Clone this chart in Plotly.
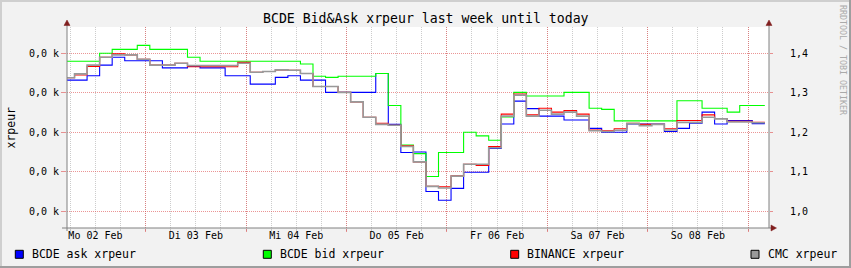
import plotly.graph_objects as go
import pandas as pd

FONT = "DejaVu Sans Mono"

# ---- data (3-hourly steps, starting 2026-02-02 04:00; last time closes the final step)
step_times = pd.date_range("2026-02-02 04:00", periods=57, freq="3h")

ask = [1.332, 1.332, 1.343, 1.370, 1.390, 1.381, 1.381, 1.381, 1.363, 1.363,
       1.367, 1.363, 1.363, 1.343, 1.343, 1.322, 1.322, 1.339, 1.343, 1.332,
       1.332, 1.301, 1.301, 1.301, 1.301, 1.349, 1.220, 1.149, 1.150, 1.050,
       1.028, 1.058, 1.099, 1.099, 1.159, 1.221, 1.279, 1.260, 1.241, 1.241,
       1.231, 1.231, 1.210, 1.200, 1.200, 1.221, 1.221, 1.221, 1.202, 1.210,
       1.223, 1.251, 1.221, 1.230, 1.230, 1.222]

bid = [1.380, 1.380, 1.380, 1.400, 1.410, 1.410, 1.420, 1.410, 1.410, 1.410,
       1.390, 1.380, 1.380, 1.380, 1.380, 1.380, 1.380, 1.380, 1.380, 1.373,
       1.342, 1.339, 1.342, 1.342, 1.342, 1.349, 1.268, 1.168, 1.146, 1.088,
       1.149, 1.149, 1.200, 1.191, 1.180, 1.239, 1.301, 1.292, 1.292, 1.292,
       1.301, 1.301, 1.261, 1.258, 1.229, 1.229, 1.229, 1.229, 1.229, 1.280,
       1.280, 1.261, 1.261, 1.251, 1.268, 1.268]

binance = [1.338, 1.345, 1.367, 1.390, 1.399, 1.396, 1.385, 1.370, 1.370, 1.375,
           1.366, 1.366, 1.366, 1.366, 1.377, 1.352, 1.354, 1.358, 1.357, 1.349,
           1.316, 1.316, 1.301, 1.277, 1.238, 1.223, 1.218, 1.166, 1.125, 1.063,
           1.062, 1.090, 1.119, 1.116, 1.164, 1.246, 1.297, 1.244, 1.261, 1.251,
           1.255, 1.246, 1.206, 1.204, 1.209, 1.223, 1.220, 1.220, 1.209, 1.230,
           1.230, 1.244, 1.235, 1.228, 1.228, 1.225]

cmc = [1.338, 1.348, 1.370, 1.390, 1.396, 1.396, 1.385, 1.370, 1.370, 1.375,
       1.369, 1.369, 1.369, 1.369, 1.375, 1.352, 1.354, 1.358, 1.357, 1.349,
       1.316, 1.316, 1.301, 1.277, 1.238, 1.220, 1.218, 1.164, 1.125, 1.063,
       1.059, 1.089, 1.119, 1.119, 1.161, 1.241, 1.294, 1.241, 1.256, 1.246,
       1.251, 1.241, 1.204, 1.202, 1.205, 1.222, 1.217, 1.220, 1.206, 1.225,
       1.225, 1.238, 1.234, 1.226, 1.226, 1.224]

series_names = ["BCDE ask xrpeur", "BCDE bid xrpeur", "BINANCE xrpeur", "CMC xrpeur"]
series_colors = ["#0000FF", "#00FF00", "#FF0000", "#999999"]
series_widths = [1.1, 1.1, 1.1, 1.6]
series_values = [ask, bid, binance, cmc]

day_labels = ["Mo 02 Feb", "Di 03 Feb", "Mi 04 Feb", "Do 05 Feb",
              "Fr 06 Feb", "Sa 07 Feb", "So 08 Feb"]
label_times = pd.date_range("2026-02-02 12:00", periods=7, freq="D")
midnights = pd.date_range("2026-02-03 00:00", periods=7, freq="D")

y_ticks = [1.0, 1.1, 1.2, 1.3, 1.4]
left_ticktext = ["0,0 k"] * 5
right_ticktext = ["1,0", "1,1", "1,2", "1,3", "1,4"]

x_range = ["2026-02-02 05:12", "2026-02-09 05:00"]
y_range = [0.9577, 1.4666]

# ---- geometry helpers (pixel -> paper)
W, H = 851, 268
L, R, T, B = 67, 82, 27, 40
PW, PH = W - L - R, H - T - B


def px(x):
    return (x - L) / PW


def py(y):
    return (H - B - y) / PH


MAJOR = "rgba(222,79,79,0.6)"
MINOR = "rgba(143,143,143,0.45)"
AXIS = "#808080"
ARROW = "#801F1F"

fig = go.Figure()
for name, col, wd, vals in zip(series_names, series_colors, series_widths, series_values):
    fig.add_trace(go.Scatter(
        x=step_times, y=list(vals) + [vals[-1]], mode="lines", name=name,
        line=dict(color=col, width=wd, shape="hv"), hoverinfo="skip"))

fig.add_trace(go.Scatter(x=[], y=[], xaxis="x2", yaxis="y2", showlegend=False,
                         hoverinfo="skip"))

shapes = []
# axis lines
shapes.append(dict(type="line", xref="paper", yref="paper", x0=px(62), x1=px(772),
                   y0=0, y1=0, line=dict(color=AXIS, width=1)))
shapes.append(dict(type="line", xref="paper", yref="paper", x0=0, x1=0,
                   y0=py(231), y1=py(24), line=dict(color=AXIS, width=1)))
shapes.append(dict(type="line", xref="paper", yref="paper", x0=1, x1=1,
                   y0=0, y1=py(24), line=dict(color=AXIS, width=1)))


def tri(points):
    p = "M " + " L ".join(f"{px(a):.5f},{py(b):.5f}" for a, b in points) + " Z"
    return dict(type="path", xref="paper", yref="paper", path=p,
                fillcolor=ARROW, line=dict(color=ARROW, width=0.5))


shapes.append(tri([(64, 25.5), (70, 25.5), (67, 20)]))
shapes.append(tri([(766, 25.5), (772, 25.5), (769, 20)]))
shapes.append(tri([(771, 225), (771, 231), (776.5, 228)]))

# frame shading
shapes.append(dict(type="rect", xref="paper", yref="paper", x0=px(0), x1=px(W),
                   y0=py(2), y1=py(0), fillcolor="#CFCFCF", line=dict(width=0), layer="below"))
shapes.append(dict(type="rect", xref="paper", yref="paper", x0=px(0), x1=px(2),
                   y0=py(H), y1=py(0), fillcolor="#CFCFCF", line=dict(width=0), layer="below"))
shapes.append(dict(type="rect", xref="paper", yref="paper", x0=px(0), x1=px(W),
                   y0=py(H), y1=py(H - 2), fillcolor="#9E9E9E", line=dict(width=0), layer="below"))
shapes.append(dict(type="rect", xref="paper", yref="paper", x0=px(W - 2), x1=px(W),
                   y0=py(H), y1=py(0), fillcolor="#9E9E9E", line=dict(width=0), layer="below"))

annotations = [
    dict(text="BCDE Bid&Ask xrpeur last week until today", xref="paper", yref="paper",
         x=px(425.5), y=py(19), xanchor="center", yanchor="middle", showarrow=False,
         font=dict(family=FONT, size=13.2, color="#000")),
    dict(text="xrpeur", xref="paper", yref="paper", x=px(10), y=py(127.5),
         xanchor="center", yanchor="middle", textangle=-90, showarrow=False,
         font=dict(family=FONT, size=11.5, color="#000")),
    dict(text="RRDTOOL / TOBI OETIKER", xref="paper", yref="paper", x=px(843), y=py(60),
         xanchor="center", yanchor="middle", textangle=90, showarrow=False,
         font=dict(family=FONT, size=8.3, color="#AAAAAA")),
]

legend_x = [15.3, 263.3, 510.7, 751]
for name, col, lx in zip(series_names, series_colors, legend_x):
    shapes.append(dict(type="rect", xref="paper", yref="paper", x0=px(lx), x1=px(lx + 8),
                       y0=py(258.3), y1=py(250.3), fillcolor=col,
                       line=dict(color="#000000", width=1)))
    annotations.append(dict(text=name, xref="paper", yref="paper", x=px(lx + 14.5),
                            y=py(254.3), xanchor="left", yanchor="middle", showarrow=False,
                            font=dict(family=FONT, size=11.5, color="#000")))

fig.update_layout(
    width=W, height=H, margin=dict(l=L, r=R, t=T, b=B, pad=0),
    paper_bgcolor="#F2F2F2", plot_bgcolor="#FFFFFF", showlegend=False,
    font=dict(family=FONT, size=10, color="#000"),
    shapes=shapes, annotations=annotations,
    xaxis=dict(type="date", range=x_range, tickmode="array", tickvals=midnights,
               showticklabels=False, showgrid=True, gridcolor=MAJOR, griddash="1px,1px",
               gridwidth=1, ticks="outside", ticklen=3, tickcolor=MAJOR,
               showline=False, zeroline=False, fixedrange=True,
               minor=dict(tickmode="linear", tick0="2026-02-02 00:00", dtick=21600000,
                          showgrid=True, gridcolor=MINOR, griddash="1px,1px", gridwidth=1,
                          ticks="outside", ticklen=2, tickcolor=MINOR)),
    xaxis2=dict(type="date", range=x_range, overlaying="x", anchor="y", side="bottom",
                tickmode="array", tickvals=label_times, ticktext=day_labels,
                showgrid=False, ticks="", showline=False, zeroline=False,
                tickfont=dict(family=FONT, size=10, color="#000"), fixedrange=True),
    yaxis=dict(range=y_range, tickmode="array", tickvals=y_ticks, ticktext=left_ticktext,
               showgrid=True, gridcolor=MAJOR, griddash="1px,1px", gridwidth=1,
               ticks="outside", ticklen=5, tickcolor=MAJOR, zeroline=False, showline=False,
               tickfont=dict(family=FONT, size=10, color="#000"), fixedrange=True),
    yaxis2=dict(range=y_range, overlaying="y", anchor="x", side="right", tickmode="array",
                tickvals=y_ticks, ticktext=right_ticktext, showgrid=False, ticks="outside",
                ticklen=3, tickcolor=MAJOR, zeroline=False, showline=False,
                ticklabelstandoff=15,
                tickfont=dict(family=FONT, size=10, color="#000"), fixedrange=True),
)

fig.write_html("out.html")
